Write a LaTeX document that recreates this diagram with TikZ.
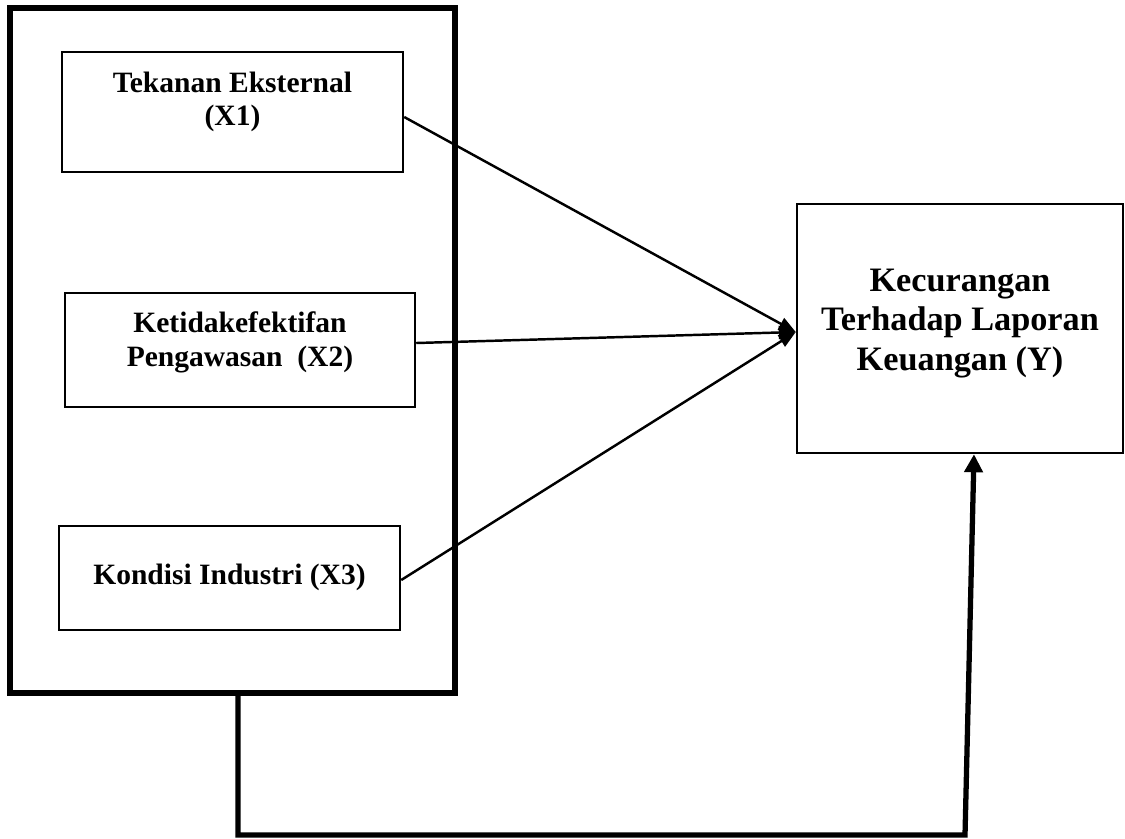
\documentclass[tikz,border=0pt]{standalone}
\usepackage{fontspec}
\setmainfont{Liberation Serif}
\usetikzlibrary{arrows.meta,positioning,calc}

\begin{document}
\begin{tikzpicture}[
  frame/.style={draw, line width=3.6pt, minimum width=8.9cm, minimum height=13.7cm},
  varbox/.style={draw, line width=1.4pt, inner sep=0pt},
  vartext/.style={font=\bfseries\fontsize{16.8}{19.2}\selectfont, align=center},
  ytext/.style={font=\bfseries\fontsize{19.5}{22.5}\selectfont, align=center},
  edge/.style={-{Triangle[length=0.34cm, width=0.26cm]}, line width=1.4pt},
  link/.style={-{Triangle[length=0.36cm, width=0.36cm]}, line width=3pt}
]
  \useasboundingbox (0,0) rectangle (22.5,-16.76);

  % Boxes
  \node[frame] (grp) at (4.65,-7.01) {};
  \node[varbox, minimum width=6.82cm, minimum height=2.4cm] (x1) at (4.65,-2.24) {};
  \node[varbox, minimum width=7.0cm, minimum height=2.28cm] (x2) at (4.8,-7.0) {};
  \node[varbox, minimum width=6.82cm, minimum height=2.08cm] (x3) at (4.59,-11.56) {};
  \node[varbox, minimum width=6.52cm, minimum height=4.98cm] (y) at (19.2,-6.57) {};

  % Texts
  \node[vartext] (x1txt) at ([yshift=0.2cm]x1.center) {Tekanan Eksternal\\(X1)};
  \node[vartext] (x2txt) at ([yshift=0.16cm]x2.center) {Ketidakefektifan\\Pengawasan~~(X2)};
  \node[vartext] (x3txt) at ([yshift=0.02cm]x3.center) {Kondisi Industri (X3)};
  \node[ytext] (ytxt) at ([yshift=0.1cm]y.center) {Kecurangan\\Terhadap Laporan\\Keuangan (Y)};

  % Edges
  \coordinate (tip) at ([yshift=-0.07cm]y.west);
  \draw[edge] ([yshift=-0.1cm]x1.east) -- (tip);
  \draw[edge] ([yshift=0.14cm]x2.east) -- (tip);
  \draw[edge] ([yshift=-0.04cm]x3.east) -- (tip);

  % Group to Y
  \coordinate (c1) at (4.76,-16.7);
  \coordinate (c2) at (19.3,-16.7);
  \draw[link] (grp.south -| c1) -- (c1) -- (c2) -- ([xshift=0.28cm]y.south);
\end{tikzpicture}
\end{document}
